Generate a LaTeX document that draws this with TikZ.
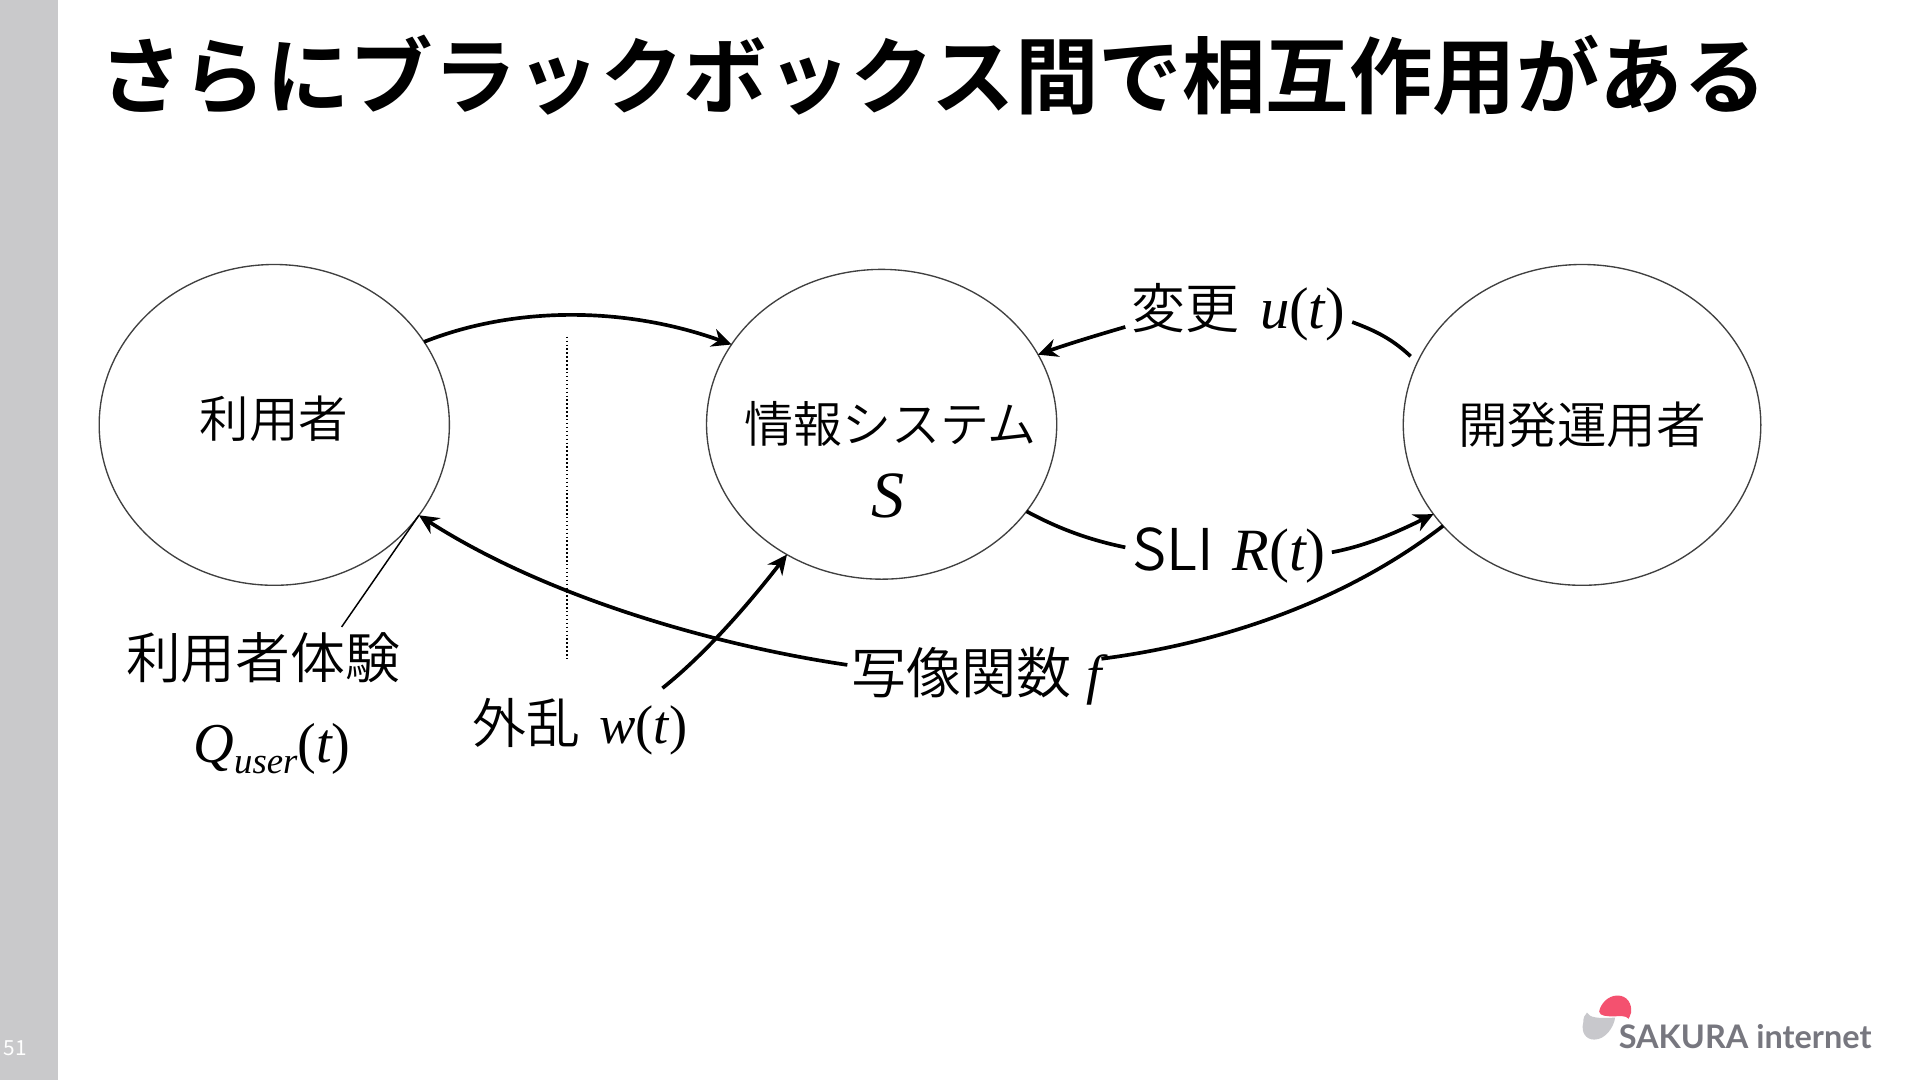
\documentclass[tikz,border=0pt]{standalone}
\usepackage{fontspec}
\usetikzlibrary{shapes.geometric,arrows.meta}
\setmainfont{Noto Sans CJK JP DemiLight}
\newfontfamily\titlefont{Noto Sans CJK JP Bold}
\newfontfamily\numfont{Noto Sans CJK JP}
\newfontfamily\serifit[Ligatures=TeX]{Liberation Serif}
\newfontfamily\logofont{Lato}
\newcommand{\vv}[1]{{\serifit\itshape #1}}
\newcommand{\pp}[1]{{\serifit(}\vv{#1}{\serifit)}}
\newcommand{\fs}[1]{\fontsize{#1}{#1}\selectfont}
\definecolor{side}{HTML}{C9C9CB}
\definecolor{logogray}{HTML}{77777F}
\definecolor{logored}{HTML}{F4516F}
\definecolor{logolight}{HTML}{C8C8CC}
\tikzset{
 blob/.style={draw=black!75,line width=1.1pt,ellipse,inner sep=0pt,outer sep=0pt},
 txt/.style={inner sep=0pt,outer sep=0pt,anchor=base west,text=black},
 conn/.style={draw=black,line width=3pt},
 head/.style={conn,-{Stealth[length=16pt,width=15pt]}},
 thin line/.style={draw=black,line width=1.2pt},
}
\begin{document}
\begin{tikzpicture}[x=1pt,y=-1pt]
\useasboundingbox (0,0) rectangle (1568,882);
\fill[white] (0,0) rectangle (1568,882);
\fill[side] (0,0) rectangle (47,882);
\node[txt,text=white] (pg) at (3,862) {\numfont\fs{17}51};
\node[txt] (title) at (81,88) {\titlefont\fs{68.2}さらにブラックボックス間で相互作用がある};

\node[blob,minimum width=286pt,minimum height=262pt] (u) at (224,347) {};
\node[txt] (ut) at (163,357) {\fs{40.5}利用者};
\node[blob,minimum width=286pt,minimum height=253pt] (s) at (720,346.5) {};
\node[blob,minimum width=292pt,minimum height=262pt] (o) at (1292,347) {\fs{40.5}開発運用者};

\node[txt] (st) at (608,361) {\fs{40}情報システム};
\node[txt] (sv) at (712,423) {\fs{54}\vv{S}};

\node[txt] (lu) at (924,268) {\fs{44}変更\hspace{17pt}{\fs{48}\vv{u}\pp{t}}};
\node[txt] (lr) at (925,466) {\fs{47}SLI\hspace{15pt}{\fs{49}\vv{R}\pp{t}}};
\node[txt] (lf) at (695,566) {\fs{45}写像関数\hspace{12pt}\vv{f}};
\node[txt] (lw) at (386,607) {\fs{44}外乱\hspace{15.5pt}{\fs{44.5}\vv{w}\pp{t}}};
\node[txt] (le) at (103,554) {\fs{44.8}利用者体験};
\node[txt] (lq) at (158,623) {\fs{46}\vv{Q}{\fs{30}\raisebox{-9pt}{\vv{user}}}\pp{t}};

\coordinate (dt) at (463,275);
\coordinate (db) at (463,538);
\coordinate (wfree) at (541,562);

\draw[thin line,dotted] (dt) -- (db);
\draw[head] (u.29.6) .. controls (420,250) and (510,250) .. (s.152);
\draw[conn] ([xshift=-8pt]o.157.5) .. controls (1135,275) and (1120,269) .. ([xshift=6pt,yshift=5pt]lu.base east);
\draw[head] ([xshift=-5pt,yshift=1pt]lu.base west) .. controls (895,274) and (872,281) .. (s.24.2);
\draw[conn] (s.-31.4) .. controls (865,432) and (890,441) .. ([xshift=-6pt,yshift=19pt]lr.base west);
\draw[head] ([xshift=5pt,yshift=15pt]lr.base east) .. controls (1115,446) and (1140,435) .. (o.211.9);
\draw[conn] (o.216.4) .. controls (1100,490) and (1000,525) .. ([yshift=28pt]lf.base east);
\draw[head] ([xshift=-3pt,yshift=23pt]lf.base west) .. controls (590,528) and (450,490) .. (u.-32.1);
\draw[head] (wfree) .. controls (575,535) and (610,495) .. (s.234.2);
\draw[thin line] ([xshift=176pt,yshift=42pt]le.base west) -- (u.-32.1);

% logo
\fill[logored] (1306,826) .. controls (1307,820) and (1313,813) .. (1321,813) .. controls (1329,813) and (1333,820) .. (1332,827) .. controls (1331,829) and (1331,831) .. (1330,832) .. controls (1328,829) and (1322,830) .. (1318,830) .. controls (1313,830) and (1306,830) .. (1306,826) -- cycle;
\fill[logolight] (1296,827) .. controls (1298,831) and (1305,832) .. (1319,831) .. controls (1318,839) and (1311,849) .. (1302,849) .. controls (1295,849) and (1291,843) .. (1293,835) .. controls (1293,831) and (1294,829) .. (1296,827) -- cycle;
\node[txt,text=logogray] (logo) at (1322,856) {\logofont\bfseries\fs{26.5}SAKURA internet};
\end{tikzpicture}
\end{document}
